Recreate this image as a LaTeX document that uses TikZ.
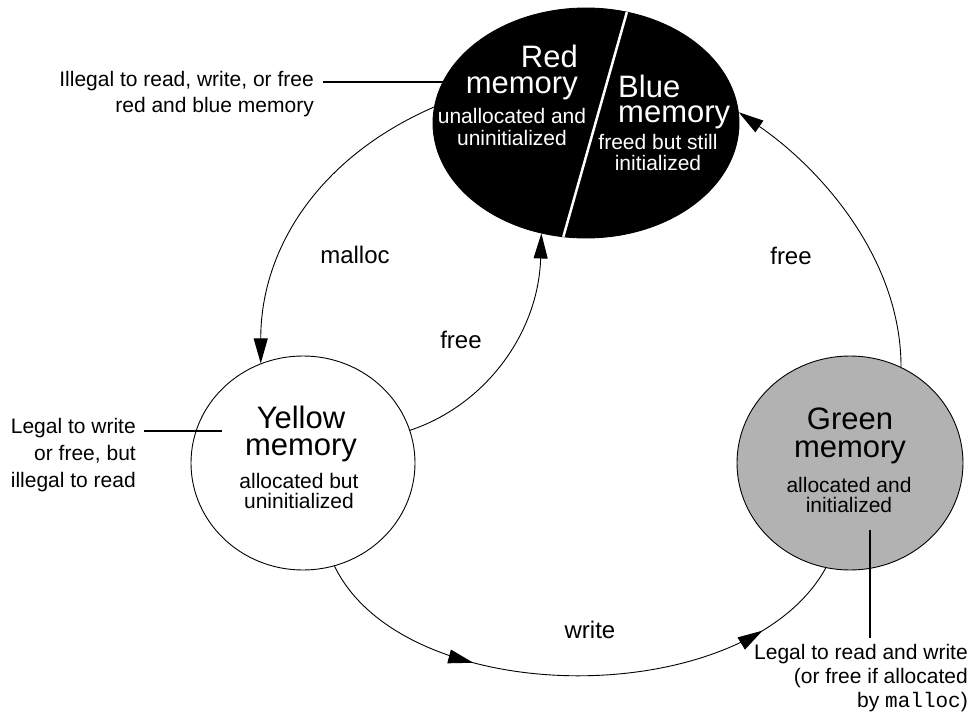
\documentclass[tikz,border=0pt]{standalone}
\usepackage{fontspec}
\setmainfont{Liberation Sans}
\setmonofont{Liberation Mono}
\usetikzlibrary{shapes.geometric,arrows.meta,decorations.markings}
\begin{document}
\begin{tikzpicture}[x=1pt,y=-1pt,
  state/.style={ellipse, draw=black, line width=0.9pt, inner sep=0pt},
  title/.style={inner sep=0pt, font=\fontsize{31}{27}\selectfont},
  sub/.style={inner sep=0pt, font=\fontsize{21}{20}\selectfont},
  lbl/.style={inner sep=0pt, font=\fontsize{24}{26}\selectfont},
  annot/.style={inner sep=0pt, font=\fontsize{21}{26}\selectfont, align=right, anchor=base east},
  tip/.style={-{Triangle[length=25pt,width=14pt]}},
  trans/.style={line width=0.9pt, tip},
  pointer/.style={line width=2pt},
]
\useasboundingbox (0,0) rectangle (978,717);

% states
\node[state, fill=black, minimum width=306pt, minimum height=230pt] (top) at (586,123) {};
\node[state, fill=white, minimum width=224pt, minimum height=214pt] (yellow) at (303,463) {};
\node[state, fill=black!30, minimum width=226pt, minimum height=214pt] (green) at (850,463) {};

% white split of the black state
\begin{scope}
  \clip (586,123) ellipse [x radius=153, y radius=115];
  \draw[white, line width=2.5pt] (631.7,-5) -- (559.6,250);
\end{scope}

% texts in states (anchor = baseline of the last line)
\node[title, align=right, anchor=base east, text=white, font=\fontsize{31}{26}\selectfont] (redt) at (578,94) {Red\\memory};
\node[sub, align=center, anchor=base, text=white, font=\fontsize{21}{22}\selectfont] (reds) at (512,146) {unallocated and\\uninitialized};
\node[title, align=left, anchor=base west, text=white, font=\fontsize{31}{25}\selectfont] (bluet) at (618,122) {Blue\\memory};
\node[sub, align=center, anchor=base, text=white, font=\fontsize{21}{21}\selectfont] (blues) at (658,170) {freed but still\\initialized};

\node[title, align=center, anchor=base] (yellowt) at (301,455) {Yellow\\memory};
\node[sub, align=center, anchor=base] (yellows) at (299,508) {allocated but\\uninitialized};

\node[title, align=center, anchor=base, font=\fontsize{31}{28}\selectfont] (greent) at (850,457) {Green\\memory};
\node[sub, align=center, anchor=base] (greens) at (849,512) {allocated and\\initialized};

% transitions
\draw[trans] (top.174) .. controls +(-115,50) and +(0,-115) .. (yellow.113);
\draw[trans] (yellow.17.5) .. controls +(75,-25) and +(-3,100) .. (top.248);
\draw[line width=0.9pt,
  decoration={markings,
    mark=at position 0.31 with {\arrow{Triangle[length=25pt,width=14pt]}},
    mark=at position 0.84 with {\arrow{Triangle[length=25pt,width=14pt]}}},
  postaction={decorate}]
  (yellow.287) .. controls +(70,145) and +(-80,145) .. (green.257);
\draw[trans] (green.62) .. controls +(0,-110) and +(80,55) .. (top.4);

% transition labels
\node[lbl] (mallocl) at (355,255) {malloc};
\node[lbl] (freel) at (461,340) {free};
\node[lbl] (writel) at (590,630) {write};
\node[lbl] (freer) at (791,256) {free};

% annotations (anchor = baseline of the last line)
\node[annot] (illegal) at (314,113) {Illegal to read, write, or free\\red and blue memory};
\node[annot, font=\fontsize{21}{27}\selectfont] (legalw) at (136,487) {Legal to write\\or free, but\\illegal to read};
\node[annot, font=\fontsize{21}{24}\selectfont] (legalr) at (968,707) {Legal to read and write\\(or free if allocated\\by \texttt{malloc})};

\coordinate (illegalend) at (323,82);
\draw[pointer] (illegalend) -- (top.164 |- illegalend);
\coordinate (lwa) at (144,431);
\coordinate (lwb) at (222,431);
\draw[pointer] (lwa) -- (lwb);
\coordinate (lra) at (870,530);
\coordinate (lrb) at (870,638);
\draw[pointer] (lra) -- (lrb);
\end{tikzpicture}
\end{document}
